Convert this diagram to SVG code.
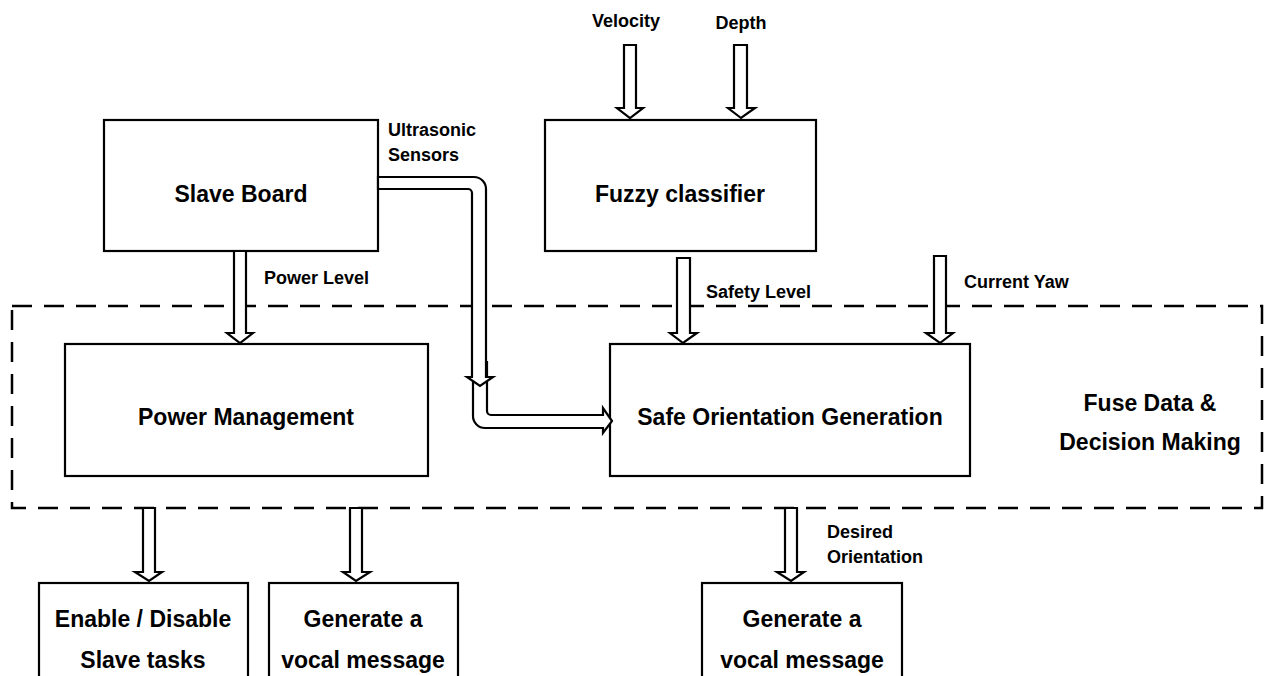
<svg xmlns="http://www.w3.org/2000/svg" width="1266" height="676" viewBox="0 0 1266 676">
<style>
.box{fill:#fff;stroke:#000;stroke-width:2.2}
.arr{fill:#fff;stroke:#000;stroke-width:2.2;stroke-linejoin:miter}
.big{font-family:"Liberation Sans",Arial,sans-serif;font-weight:bold;font-size:23px;text-anchor:middle;fill:#000}
.sm{font-family:"Liberation Sans",Arial,sans-serif;font-weight:bold;font-size:18px;fill:#000}
</style>
<rect x="0" y="0" width="1266" height="676" fill="#fff"/>
<g id="group-fuse">
<rect x="12" y="306" width="1250" height="202" fill="none" stroke="#000" stroke-width="2.5" stroke-dasharray="20,12"/>
<text class="big" x="1150" y="411">Fuse Data &amp;</text>
<text class="big" x="1150" y="450">Decision Making</text>
</g>
<g id="slave-board"><rect class="box" x="104" y="120" width="274" height="131"/><text class="big" x="241" y="202">Slave Board</text></g>
<g id="fuzzy-classifier"><rect class="box" x="545" y="120" width="271" height="131"/><text class="big" x="680" y="202">Fuzzy classifier</text></g>
<g id="power-management"><rect class="box" x="65" y="344" width="363" height="132"/><text class="big" x="246" y="425">Power Management</text></g>
<g id="safe-orientation"><rect class="box" x="610" y="344" width="360" height="132"/><text class="big" x="790" y="425">Safe Orientation Generation</text></g>
<g id="enable-disable"><rect class="box" x="39" y="583" width="209" height="100"/><text class="big" x="143" y="627">Enable / Disable</text><text class="big" x="143" y="668">Slave tasks</text></g>
<g id="vocal-1"><rect class="box" x="269" y="583" width="189" height="100"/><text class="big" x="363" y="627">Generate a</text><text class="big" x="363" y="668">vocal message</text></g>
<g id="vocal-2"><rect class="box" x="702" y="583" width="200" height="100"/><text class="big" x="802" y="627">Generate a</text><text class="big" x="802" y="668">vocal message</text></g>
<g id="connectors">
<path class="arr" d="M624,45 H636 V108 H643 L630,118 L617,108 H624 Z"/>
<path class="arr" d="M734,45 H747 V108 H755 L741,118 L728,108 H734 Z"/>
<path class="arr" d="M234,251 H246 V333 H253 L240,343 L227,333 H234 Z"/>
<path class="arr" d="M677,258 H690 V333 H697 L683,343 L670,333 H677 Z"/>
<path class="arr" d="M934,256 H946 V333 H953 L940,343 L926,333 H934 Z"/>
<path class="arr" d="M143,508 H155 V572 H162 L149,581 L135,572 H143 Z"/>
<path class="arr" d="M350,508 H362 V572 H370 L356,581 L343,572 H350 Z"/>
<path class="arr" d="M785,508 H797 V572 H804 L791,581 L777,572 H785 Z"/>
<path class="arr" d="M473,362 V416 A12,12 0 0 0 485,428 H603 V433 L612,421 L603,408 V415 H491 A4,4 0 0 1 487,411 V362 Z"/>
<path class="arr" d="M378,177 H474 A12,12 0 0 1 486,189 V377 H493 L480,386 L467,377 H472 V193 A4,4 0 0 0 468,189 H378 Z"/>
</g>
<g id="labels">
<text class="sm" x="388" y="136">Ultrasonic</text>
<text class="sm" x="388" y="161">Sensors</text>
<text class="sm" x="626" y="27" text-anchor="middle">Velocity</text>
<text class="sm" x="741" y="29" text-anchor="middle">Depth</text>
<text class="sm" x="264" y="284">Power Level</text>
<text class="sm" x="706" y="298">Safety Level</text>
<text class="sm" x="964" y="288">Current Yaw</text>
<text class="sm" x="827" y="538">Desired</text>
<text class="sm" x="827" y="563">Orientation</text>
</g>
</svg>
